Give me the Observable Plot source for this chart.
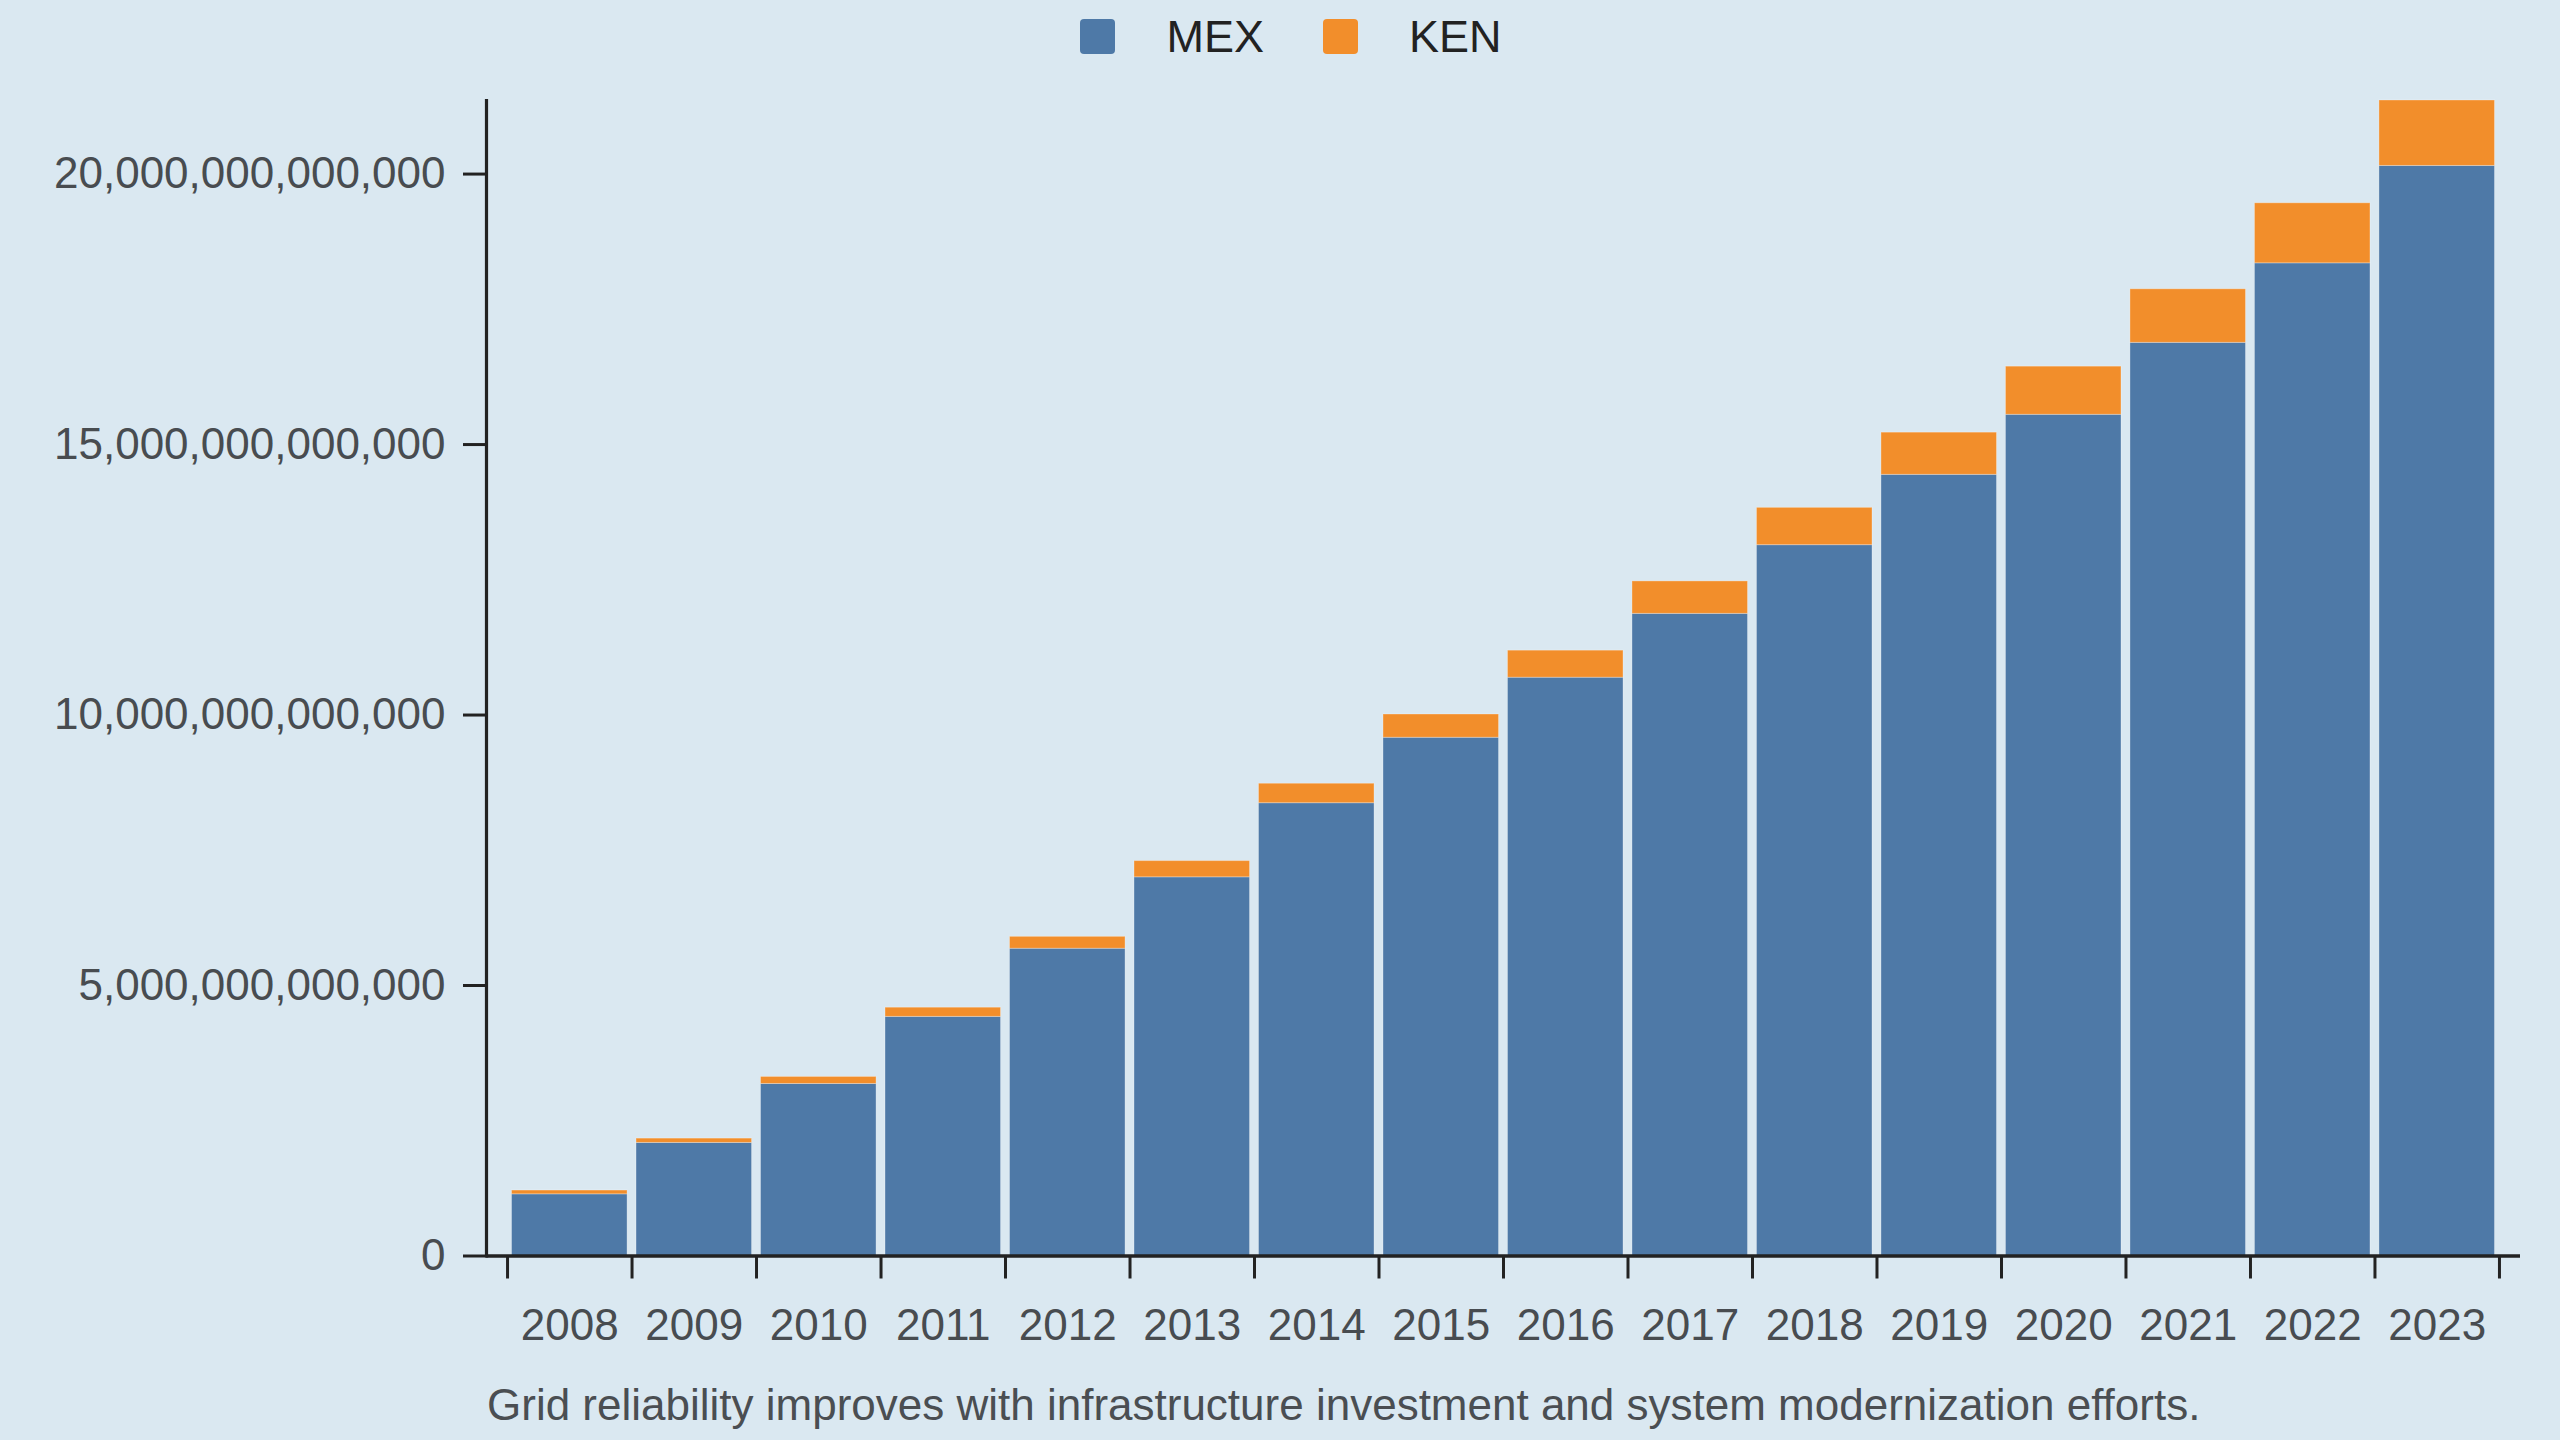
<!DOCTYPE html>
<html>
<head>
<meta charset="utf-8">
<script src="https://cdn.jsdelivr.net/npm/d3@7"></script>
<script src="https://cdn.jsdelivr.net/npm/@observablehq/plot@0.6"></script>
<style>
html, body { margin: 0; padding: 0; background: #dae8f1; }
body { width: 2560px; height: 1440px; overflow: hidden; font-family: "Liberation Sans", Arial, sans-serif; }
#legend { height: 72px; display: flex; align-items: center; justify-content: center; padding-left: 22px; box-sizing: border-box; }
.item { display: flex; align-items: center; margin: 0 29.5px; }
.sw { width: 35px; height: 35px; border-radius: 4px; margin-right: 51px; }
.lab { font-size: 45px; color: #222; line-height: 1; }
#caption { margin-top: 11px; padding-left: 487px; font-size: 44px; line-height: 44px; color: #4a4e52; white-space: nowrap; }
#chart svg { display: block; }
</style>
</head>
<body>
<div id="legend"></div>
<div id="chart"></div>
<div id="caption"></div>
<script>
// ---- data ----
const years = [2008, 2009, 2010, 2011, 2012, 2013, 2014, 2015, 2016, 2017, 2018, 2019, 2020, 2021, 2022, 2023];
const seriesNames = ["MEX", "KEN"];
const mex = [1.14e12, 2.09e12, 3.18e12, 4.42e12, 5.68e12, 7.00e12, 8.37e12, 9.58e12, 10.69e12, 11.87e12, 13.14e12, 14.44e12, 15.55e12, 16.88e12, 18.35e12, 20.15e12];
const ken = [0.07e12, 0.08e12, 0.13e12, 0.17e12, 0.22e12, 0.30e12, 0.36e12, 0.43e12, 0.50e12, 0.60e12, 0.69e12, 0.78e12, 0.89e12, 0.99e12, 1.11e12, 1.21e12];
const yTicks = [0, 5e12, 10e12, 15e12, 20e12];
const colors = ["#4e79a7", "#f28e2b"];
const captionText = "Grid reliability improves with infrastructure investment and system modernization efforts.";

// ---- table ----
const values = { MEX: mex, KEN: ken };
const table = years.flatMap((yr, i) => seriesNames.map(s => ({ year: yr, series: s, value: values[s][i] })));
const totals = years.map((yr, i) => mex[i] + ken[i]);

// ---- layout ----
const W = 2560, H = 1300;
const mL = 486, mR = 40, mT = 28, mB = 116.5;
const padIn = 0.072, padOut = 0.205;
const xs = Plot.scale({ x: { type: "band", domain: years, range: [mL, W - mR], paddingInner: padIn, paddingOuter: padOut, round: false } });
const step = xs.step ?? (W - mL - mR) / (years.length - padIn + 2 * padOut);

const axisColor = "#222";
const textColor = "#484c50";

const chart = Plot.plot({
  width: W,
  height: H,
  marginLeft: mL,
  marginRight: mR,
  marginTop: mT,
  marginBottom: mB,
  style: { background: "transparent", fontFamily: "'Liberation Sans', Arial, sans-serif", overflow: "visible" },
  x: { type: "band", domain: years, paddingInner: padIn, paddingOuter: padOut, round: false, axis: null, label: null },
  y: { domain: [0, d3.max(totals)], nice: false, axis: null, label: null },
  color: { domain: seriesNames, range: colors },
  marks: [
    Plot.barY(table, { x: "year", y: "value", fill: "series", order: seriesNames, stroke: "#ffffff", strokeOpacity: 0.3, strokeWidth: 1 }),
    Plot.ruleY([0], { stroke: axisColor, strokeWidth: 3.5 }),
    Plot.frame({ anchor: "left", stroke: axisColor, strokeWidth: 3.2 }),
    Plot.axisY({ ticks: yTicks, label: null, tickSize: 23, tickPadding: 18, tickFormat: d3.format(",.0f"), fontSize: 44, stroke: axisColor, strokeWidth: 3, fill: textColor }),
    Plot.ruleX(years, { x: d => d, y1: 0, y2: 0, dx: -step / 2, insetBottom: -23, stroke: axisColor, strokeWidth: 3 }),
    Plot.ruleX(years.slice(-1), { x: d => d, y1: 0, y2: 0, dx: step / 2, insetBottom: -23, stroke: axisColor, strokeWidth: 3 }),
    Plot.axisX({ label: null, tickSize: 0, tickPadding: 53, fontSize: 44, fill: textColor, tickFormat: d => String(d) })
  ]
});
document.getElementById("chart").appendChild(chart);

// ---- legend ----
const legend = document.getElementById("legend");
seriesNames.forEach((s, i) => {
  const item = document.createElement("div");
  item.className = "item";
  const sw = document.createElement("div");
  sw.className = "sw";
  sw.style.background = colors[i];
  const lab = document.createElement("span");
  lab.className = "lab";
  lab.textContent = s;
  item.appendChild(sw);
  item.appendChild(lab);
  legend.appendChild(item);
});

document.getElementById("caption").textContent = captionText;
</script>
</body>
</html>
